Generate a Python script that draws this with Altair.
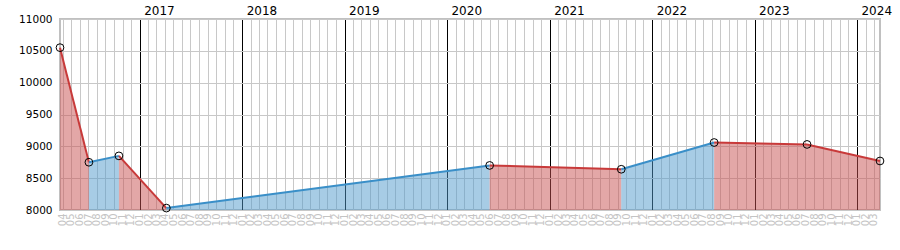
import altair as alt
import pandas as pd

# Data points
dates = ["2016-03-23", "2016-07-04", "2016-10-19", "2017-04-06", "2020-06-01",
         "2021-09-13", "2022-08-10", "2023-07-07", "2024-03-23"]
values = [10550, 8750, 8850, 8030, 8700, 8640, 9060, 9030, 8770]
y_ticks = [8000, 8500, 9000, 9500, 10000, 10500, 11000]
directions = ["up", "down"]

rows = []
for i in range(len(dates) - 1):
    d = "up" if values[i + 1] > values[i] else "down"
    rows.append({"seg": i, "date": dates[i], "value": values[i], "dir": d})
    rows.append({"seg": i, "date": dates[i + 1], "value": values[i + 1], "dir": d})
seg_df = pd.DataFrame(rows)
pts_df = pd.DataFrame({"date": dates, "value": values})

FONT = "DejaVu Sans"

bottom_axis = alt.Axis(
    orient="bottom", format="%m", labelAngle=270,
    tickCount={"interval": "month", "step": 1},
    labelOverlap=False, labelFlush=False, labelColor="#c4c4c4", labelFontSize=10,
    labelFont=FONT, labelPadding=3, ticks=False, domain=False, grid=True,
    gridColor={"condition": {"test": "month(datum.value) === 0", "value": "black"},
               "value": "#c8c8c8"},
    gridOpacity=1, title=None,
)
top_axis = alt.Axis(
    orient="top", format="%Y", tickCount={"interval": "year", "step": 1},
    labelAlign="left", labelBaseline="bottom", labelOffset=4, labelPadding=2,
    labelFlush=False, labelOverlap=False, labelColor="black", labelFontSize=12,
    labelFont=FONT, ticks=False, domain=False, grid=False, title=None,
)
y_axis = alt.Axis(
    values=y_ticks, format="d", labelColor="black", labelFontSize=10.5, labelFont=FONT,
    labelPadding=8, ticks=False, domain=False, grid=True, gridColor="#c8c8c8",
    gridOpacity=1, title=None,
)

xscale = alt.Scale(nice=False)
yenc = alt.Y("value:Q", scale=alt.Scale(domain=[8000, 11000], nice=False, zero=False),
             axis=y_axis)

area = alt.Chart(seg_df).mark_area(fillOpacity=0.5, strokeWidth=0).encode(
    x=alt.X("date:T", scale=xscale, axis=bottom_axis),
    y=yenc,
    y2=alt.datum(8000),
    color=alt.Color("dir:N", scale=alt.Scale(domain=directions, range=["#5099cc", "#c85050"]),
                    legend=None),
    detail="seg:N",
)
line = alt.Chart(seg_df).mark_line(strokeWidth=2).encode(
    x=alt.X("date:T", scale=xscale, axis=None),
    y=yenc,
    color=alt.Color("dir:N", scale=alt.Scale(domain=directions, range=["#3a8fc8", "#c83a3a"]),
                    legend=None),
    detail="seg:N",
)
points = alt.Chart(pts_df).mark_point(shape="circle", filled=False, color="black",
                                      size=60, strokeWidth=1, opacity=1).encode(
    x=alt.X("date:T", scale=xscale, axis=top_axis),
    y=yenc,
)

chart = alt.layer(area, line, points).resolve_scale(color="independent").resolve_axis(
    x="independent"
).properties(
    width=820, height=191,
    autosize=alt.AutoSizeParams(type="none"),
    padding={"left": 60, "top": 19, "right": 20, "bottom": 40},
).configure_view(stroke="#c0c0c0", strokeWidth=2)

chart.save("out.html", embed_options={"renderer": "svg", "actions": False})
